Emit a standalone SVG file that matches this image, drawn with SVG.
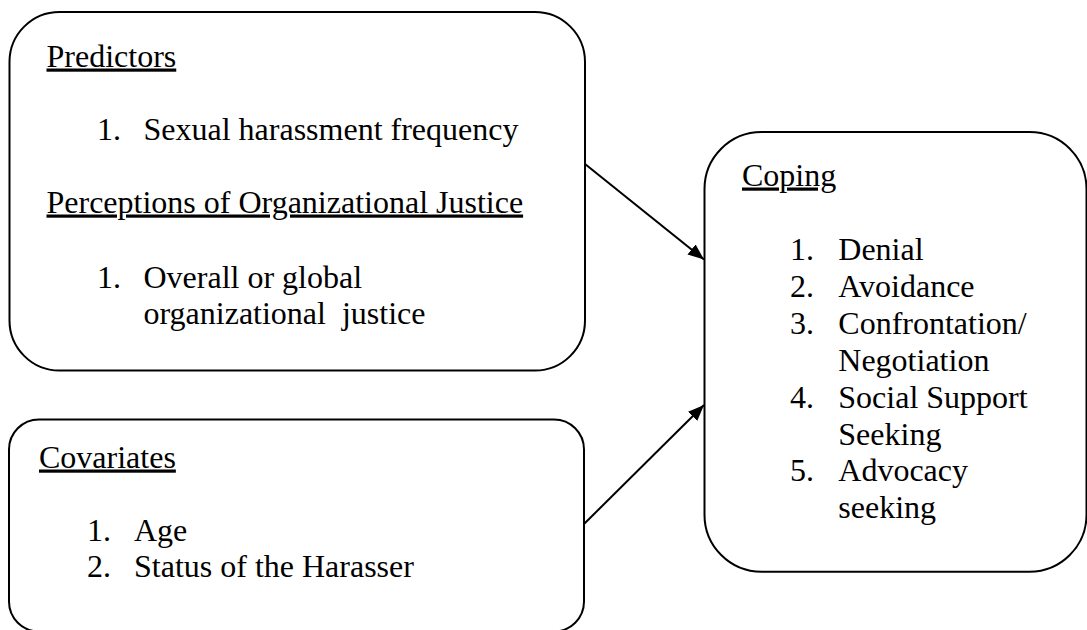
<svg xmlns="http://www.w3.org/2000/svg" width="1087" height="630" viewBox="0 0 1087 630">
  <defs>
    <style>
      .box { fill: #ffffff; stroke: #000000; stroke-width: 2; }
      .t { font-family: "Liberation Serif", "Times New Roman", serif; font-size: 32px; fill: #000000; }
      .u { text-decoration: underline; }
      .conn { stroke: #000000; stroke-width: 2; fill: none; }
    </style>
    <marker id="arrow" markerUnits="userSpaceOnUse" markerWidth="17" markerHeight="14" refX="16" refY="6.5" orient="auto">
      <path d="M0,0 L16,6.5 L0,13 z" fill="#000000"/>
    </marker>
  </defs>
  <rect x="0" y="0" width="1087" height="630" fill="#ffffff"/>

  <g id="predictors">
    <rect class="box" x="9.5" y="12" width="575.5" height="358.5" rx="50" ry="50"/>
    <text class="t u" x="46.5" y="66.5">Predictors</text>
    <text class="t" x="97" y="139.5">1.</text>
    <text class="t" x="143.5" y="139.5">Sexual harassment frequency</text>
    <text class="t u" x="46.5" y="212.5">Perceptions of Organizational Justice</text>
    <text class="t" x="97" y="287.5">1.</text>
    <text class="t" x="143.5" y="287.5">Overall or global</text>
    <text class="t" x="143.5" y="323.5" xml:space="preserve">organizational  justice</text>
  </g>

  <g id="covariates">
    <rect class="box" x="9" y="419.5" width="575" height="212" rx="30" ry="30"/>
    <text class="t u" x="39" y="467.5">Covariates</text>
    <text class="t" x="87" y="541">1.</text>
    <text class="t" x="134" y="541">Age</text>
    <text class="t" x="87" y="577">2.</text>
    <text class="t" x="134" y="577">Status of the Harasser</text>
  </g>

  <g id="coping">
    <rect class="box" x="704.5" y="132" width="382" height="439.7" rx="57" ry="57"/>
    <text class="t u" x="742" y="185.5">Coping</text>
    <text class="t" x="790" y="260">1.</text>
    <text class="t" x="838.3" y="260">Denial</text>
    <text class="t" x="790" y="296.9">2.</text>
    <text class="t" x="838.3" y="296.9">Avoidance</text>
    <text class="t" x="790" y="333.8">3.</text>
    <text class="t" x="838.3" y="333.8">Confrontation/</text>
    <text class="t" x="838.3" y="370.7">Negotiation</text>
    <text class="t" x="790" y="407.6">4.</text>
    <text class="t" x="838.3" y="407.6">Social Support</text>
    <text class="t" x="838.3" y="444.5">Seeking</text>
    <text class="t" x="790" y="481.4">5.</text>
    <text class="t" x="838.3" y="481.4">Advocacy</text>
    <text class="t" x="838.3" y="518.3">seeking</text>
  </g>

  <g id="connectors">
    <line class="conn" x1="585" y1="164" x2="704" y2="259.5" marker-end="url(#arrow)"/>
    <line class="conn" x1="584" y1="524" x2="704" y2="405" marker-end="url(#arrow)"/>
  </g>
</svg>
